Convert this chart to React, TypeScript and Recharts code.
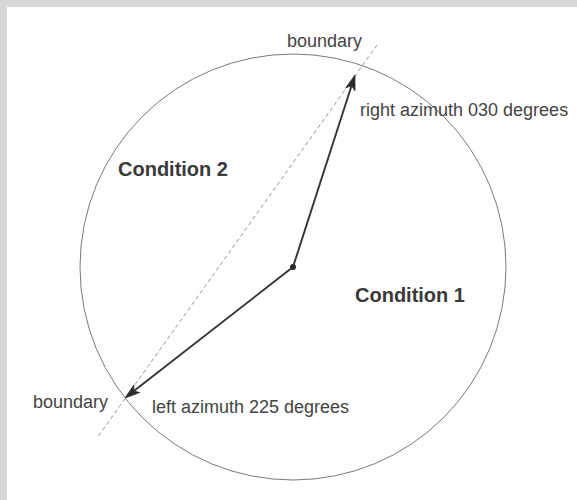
import React from "react";
import {
  ScatterChart,
  Scatter,
  XAxis,
  YAxis,
  ReferenceLine,
  ReferenceDot,
} from "recharts";

// Diagram coordinates: origin at the centre of the circle, y pointing up.
const centre = { x: 0, y: 0 };
const arrowNames = ["right", "left"];
const arrowTipX = [62, -168];
const arrowTipY = [192, -131];
const boundaryX = [84, -196];
const boundaryY = [222, -171];

const labelTexts = [
  "boundary",
  "right azimuth 030 degrees",
  "Condition 2",
  "Condition 1",
  "boundary",
  "left azimuth 225 degrees",
];
const labelX = [-6, 67, -175, 62, -260, -141];
const labelY = [220, 151, 91, -35, -141, -146];
const labelBold = [false, false, true, true, false, false];

const labels = labelTexts.map((text, i) => ({
  text,
  x: labelX[i],
  y: labelY[i],
  bold: labelBold[i],
}));

const arrows = arrowNames.map((name, i) => ({
  name,
  x: arrowTipX[i],
  y: arrowTipY[i],
}));

const W = 570;
const H = 493;
const X_DOMAIN: [number, number] = [-286, 284];
const Y_DOMAIN: [number, number] = [-233, 260];

const FONT = "'Liberation Sans', Arial, Helvetica, sans-serif";

const ArrowShape = (props: any) => {
  const { x1, y1, x2, y2 } = props;
  if ([x1, y1, x2, y2].some((v) => typeof v !== "number" || isNaN(v))) return null;
  const dx = x2 - x1;
  const dy = y2 - y1;
  const len = Math.sqrt(dx * dx + dy * dy);
  const ux = dx / len;
  const uy = dy / len;
  const headLen = 15;
  const headHalf = 4.8;
  const bx = x2 - ux * headLen;
  const by = y2 - uy * headLen;
  const px = -uy;
  const py = ux;
  const notchX = x2 - ux * headLen * 0.75;
  const notchY = y2 - uy * headLen * 0.75;
  return (
    <g>
      <line x1={x1} y1={y1} x2={notchX} y2={notchY} stroke="#333" strokeWidth={1.9} />
      <polygon
        points={`${x2},${y2} ${bx + px * headHalf},${by + py * headHalf} ${notchX},${notchY} ${bx - px * headHalf},${by - py * headHalf}`}
        fill="#2b2b2b"
        stroke="#2b2b2b"
        strokeWidth={0.8}
        strokeLinejoin="round"
      />
    </g>
  );
};

const LabelShape = (props: any) => {
  const { cx, cy, payload } = props;
  if (typeof cx !== "number" || typeof cy !== "number") return null;
  return (
    <text
      x={cx}
      y={cy}
      textAnchor="start"
      fontFamily={FONT}
      fontSize={payload.bold ? 20 : 18}
      fontWeight={payload.bold ? 700 : 400}
      fill={payload.bold ? "#3a3a3a" : "#444"}
    >
      {payload.text}
    </text>
  );
};

export default function App() {
  return (
    <div
      style={{
        position: "absolute",
        left: 0,
        top: 0,
        width: W,
        height: H,
        borderTop: "7px solid #d6d6d6",
        borderLeft: "7px solid #d6d6d6",
        background: "#fefefe",
      }}
    >
      <ScatterChart width={W} height={H} margin={{ top: 0, right: 0, bottom: 0, left: 0 }}>
        <XAxis type="number" dataKey="x" domain={X_DOMAIN} allowDataOverflow hide />
        <YAxis type="number" dataKey="y" domain={Y_DOMAIN} allowDataOverflow hide />
        <ReferenceDot
          x={centre.x}
          y={centre.y}
          r={213}
          fill="none"
          stroke="#7a7a7a"
          strokeWidth={1}
          isFront={false}
        />
        <ReferenceLine
          segment={[
            { x: boundaryX[0], y: boundaryY[0] },
            { x: boundaryX[1], y: boundaryY[1] },
          ]}
          stroke="#8a8a8a"
          strokeWidth={0.9}
          strokeDasharray="4 3"
        />
        {arrows.map((a) => (
          <ReferenceLine
            key={a.name}
            segment={[
              { x: centre.x, y: centre.y },
              { x: a.x, y: a.y },
            ]}
            shape={ArrowShape}
          />
        ))}
        <ReferenceDot x={centre.x} y={centre.y} r={3} fill="#2b2b2b" stroke="none" />
        <Scatter data={labels} shape={LabelShape} isAnimationActive={false} />
      </ScatterChart>
    </div>
  );
}
